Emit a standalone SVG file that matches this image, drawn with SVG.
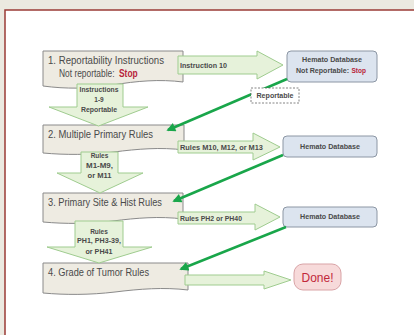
<svg xmlns="http://www.w3.org/2000/svg" width="414" height="335" viewBox="0 0 414 335">
<style>
.doc{fill:#eeebe2;stroke:#8a8a8a;stroke-width:1}
.blk{fill:#e6f2da;stroke:#9fcc8f;stroke-width:1}
.db{fill:#dce4ef;stroke:#8c96a4;stroke-width:1}
.t{font-family:"Liberation Sans",Arial,sans-serif;fill:#4a4a4a}
.h{font-size:10.5px}
.s{font-size:6.5px;font-weight:bold}
.red{fill:#b8233a;font-weight:bold}
.con{stroke:#19a64a;stroke-width:2.5;fill:none;marker-end:url(#ah)}
</style>
<defs>
<marker id="ah" viewBox="0 0 10 10" refX="8" refY="5" markerWidth="4" markerHeight="3.6" orient="auto" markerUnits="strokeWidth">
<path d="M0,0 L10,5 L0,10 Z" fill="#19a64a"/>
</marker>
</defs>
<rect x="0" y="0" width="414" height="335" fill="#ebe9e0"/>
<rect x="5" y="10" width="420" height="340" fill="#ffffff" stroke="#9a3b36" stroke-width="1.5"/>

<g id="node1">
<path class="doc" d="M43,51 H183 V82 C160,79 136,81 113,85 C90,89 65,89 43,86 Z"/>
<text class="t h" x="48" y="64" textLength="116" lengthAdjust="spacingAndGlyphs">1. Reportability Instructions</text>
<g transform="translate(59,77) scale(0.8,1)">
<text class="t h" x="0" y="0">Not reportable:</text>
<text class="t h red" x="75" y="0">Stop</text>
</g>
</g>
<g id="node2">
<path class="doc" d="M43,125 H184 V150 C161,147 137,149 114,152 C90,155 65,155 43,153 Z"/>
<text class="t h" x="48" y="138" textLength="105" lengthAdjust="spacingAndGlyphs">2. Multiple Primary Rules</text>
</g>
<g id="node3">
<path class="doc" d="M43,193 H183 V219 C160,216 136,218 113,221 C90,224 65,224 43,222 Z"/>
<text class="t h" x="48" y="206" textLength="114" lengthAdjust="spacingAndGlyphs">3. Primary Site &amp; Hist Rules</text>
</g>
<g id="node4">
<path class="doc" d="M43,263 H188 V290 C164,287 139,289 115,292 C90,295 65,295 43,293 Z"/>
<text class="t h" x="48" y="276" textLength="101" lengthAdjust="spacingAndGlyphs">4. Grade of Tumor Rules</text>
</g>

<g id="down1">
<polygon class="blk" points="77,84 123,84 123,107 148,107 98.5,126 49,107 77,107"/>
<text class="t s" x="99" y="92" text-anchor="middle" textLength="39" lengthAdjust="spacingAndGlyphs">Instructions</text>
<text class="t s" x="99" y="101.5" text-anchor="middle">1-9</text>
<text class="t s" x="99" y="112" text-anchor="middle" textLength="36" lengthAdjust="spacingAndGlyphs">Reportable</text>
</g>
<g id="down2">
<polygon class="blk" points="81,152 118,152 118,173 143,173 100,193 57,173 81,173"/>
<text class="t s" x="99.5" y="157.5" text-anchor="middle">Rules</text>
<text class="t s" x="99.5" y="168" text-anchor="middle" textLength="27" lengthAdjust="spacingAndGlyphs">M1-M9,</text>
<text class="t s" x="99.5" y="178" text-anchor="middle" textLength="24" lengthAdjust="spacingAndGlyphs">or M11</text>
</g>
<g id="down3">
<polygon class="blk" points="75,221 123,221 123,247 152,247 99,263 47,247 75,247"/>
<text class="t s" x="99" y="233.5" text-anchor="middle">Rules</text>
<text class="t s" x="99" y="243" text-anchor="middle" textLength="44" lengthAdjust="spacingAndGlyphs">PH1, PH3-39,</text>
<text class="t s" x="99" y="254" text-anchor="middle" textLength="27" lengthAdjust="spacingAndGlyphs">or PH41</text>
</g>

<g id="right1">
<polygon class="blk" points="178,56 257,56 257,51 283,65 257,79 257,74 178,74"/>
<text class="t s" x="180" y="67.5" textLength="47" lengthAdjust="spacingAndGlyphs">Instruction 10</text>
</g>
<g id="right2">
<polygon class="blk" points="178,141 253,141 253,133 280,147 253,160 253,153 178,153"/>
<text class="t s" x="180" y="150" textLength="83" lengthAdjust="spacingAndGlyphs">Rules M10, M12, or M13</text>
</g>
<g id="right3">
<polygon class="blk" points="178,212 255,212 255,204 280,217 255,230 255,224 178,224"/>
<text class="t s" x="180" y="221" textLength="62" lengthAdjust="spacingAndGlyphs">Rules PH2 or PH40</text>
</g>
<g id="right4">
<polygon class="blk" points="185,275 264,275 264,271 291,280 264,289 264,285 185,285"/>
</g>

<g id="db1">
<rect class="db" x="287" y="51" width="90" height="31" rx="4"/>
<text class="t s" x="332" y="62" text-anchor="middle" textLength="60" lengthAdjust="spacingAndGlyphs">Hemato Database</text>
<text class="t s" x="296" y="73" font-size="7" textLength="53" lengthAdjust="spacingAndGlyphs">Not Reportable:</text>
<text class="t s red" x="351.5" y="73" font-size="7">Stop</text>
</g>
<g id="db2">
<rect class="db" x="283" y="136" width="94" height="21" rx="4"/>
<text class="t s" x="330" y="148.5" text-anchor="middle" textLength="60" lengthAdjust="spacingAndGlyphs">Hemato Database</text>
</g>
<g id="db3">
<rect class="db" x="283" y="207" width="94" height="20" rx="4"/>
<text class="t s" x="330" y="218.5" text-anchor="middle" textLength="60" lengthAdjust="spacingAndGlyphs">Hemato Database</text>
</g>
<g id="done">
<rect x="294" y="264" width="47" height="26" rx="9" fill="#f7dada" stroke="#d9a3a6" stroke-width="1"/>
<text x="317.5" y="282" text-anchor="middle" font-family="'Liberation Sans',Arial,sans-serif" font-size="12.5" fill="#c2283a" textLength="32" lengthAdjust="spacingAndGlyphs">Done!</text>
</g>

<g id="connectors">
<path class="con" d="M287,79 L168,130"/>
<path class="con" d="M283,155 L174,201"/>
<path class="con" d="M286,227 L181,269"/>
</g>
<g id="label-reportable">
<rect x="251" y="88" width="48" height="15" fill="#ffffff" stroke="#666" stroke-width="0.8" stroke-dasharray="2,1.5"/>
<text class="t s" x="275" y="98" text-anchor="middle" textLength="37" lengthAdjust="spacingAndGlyphs">Reportable</text>
</g>
</svg>
